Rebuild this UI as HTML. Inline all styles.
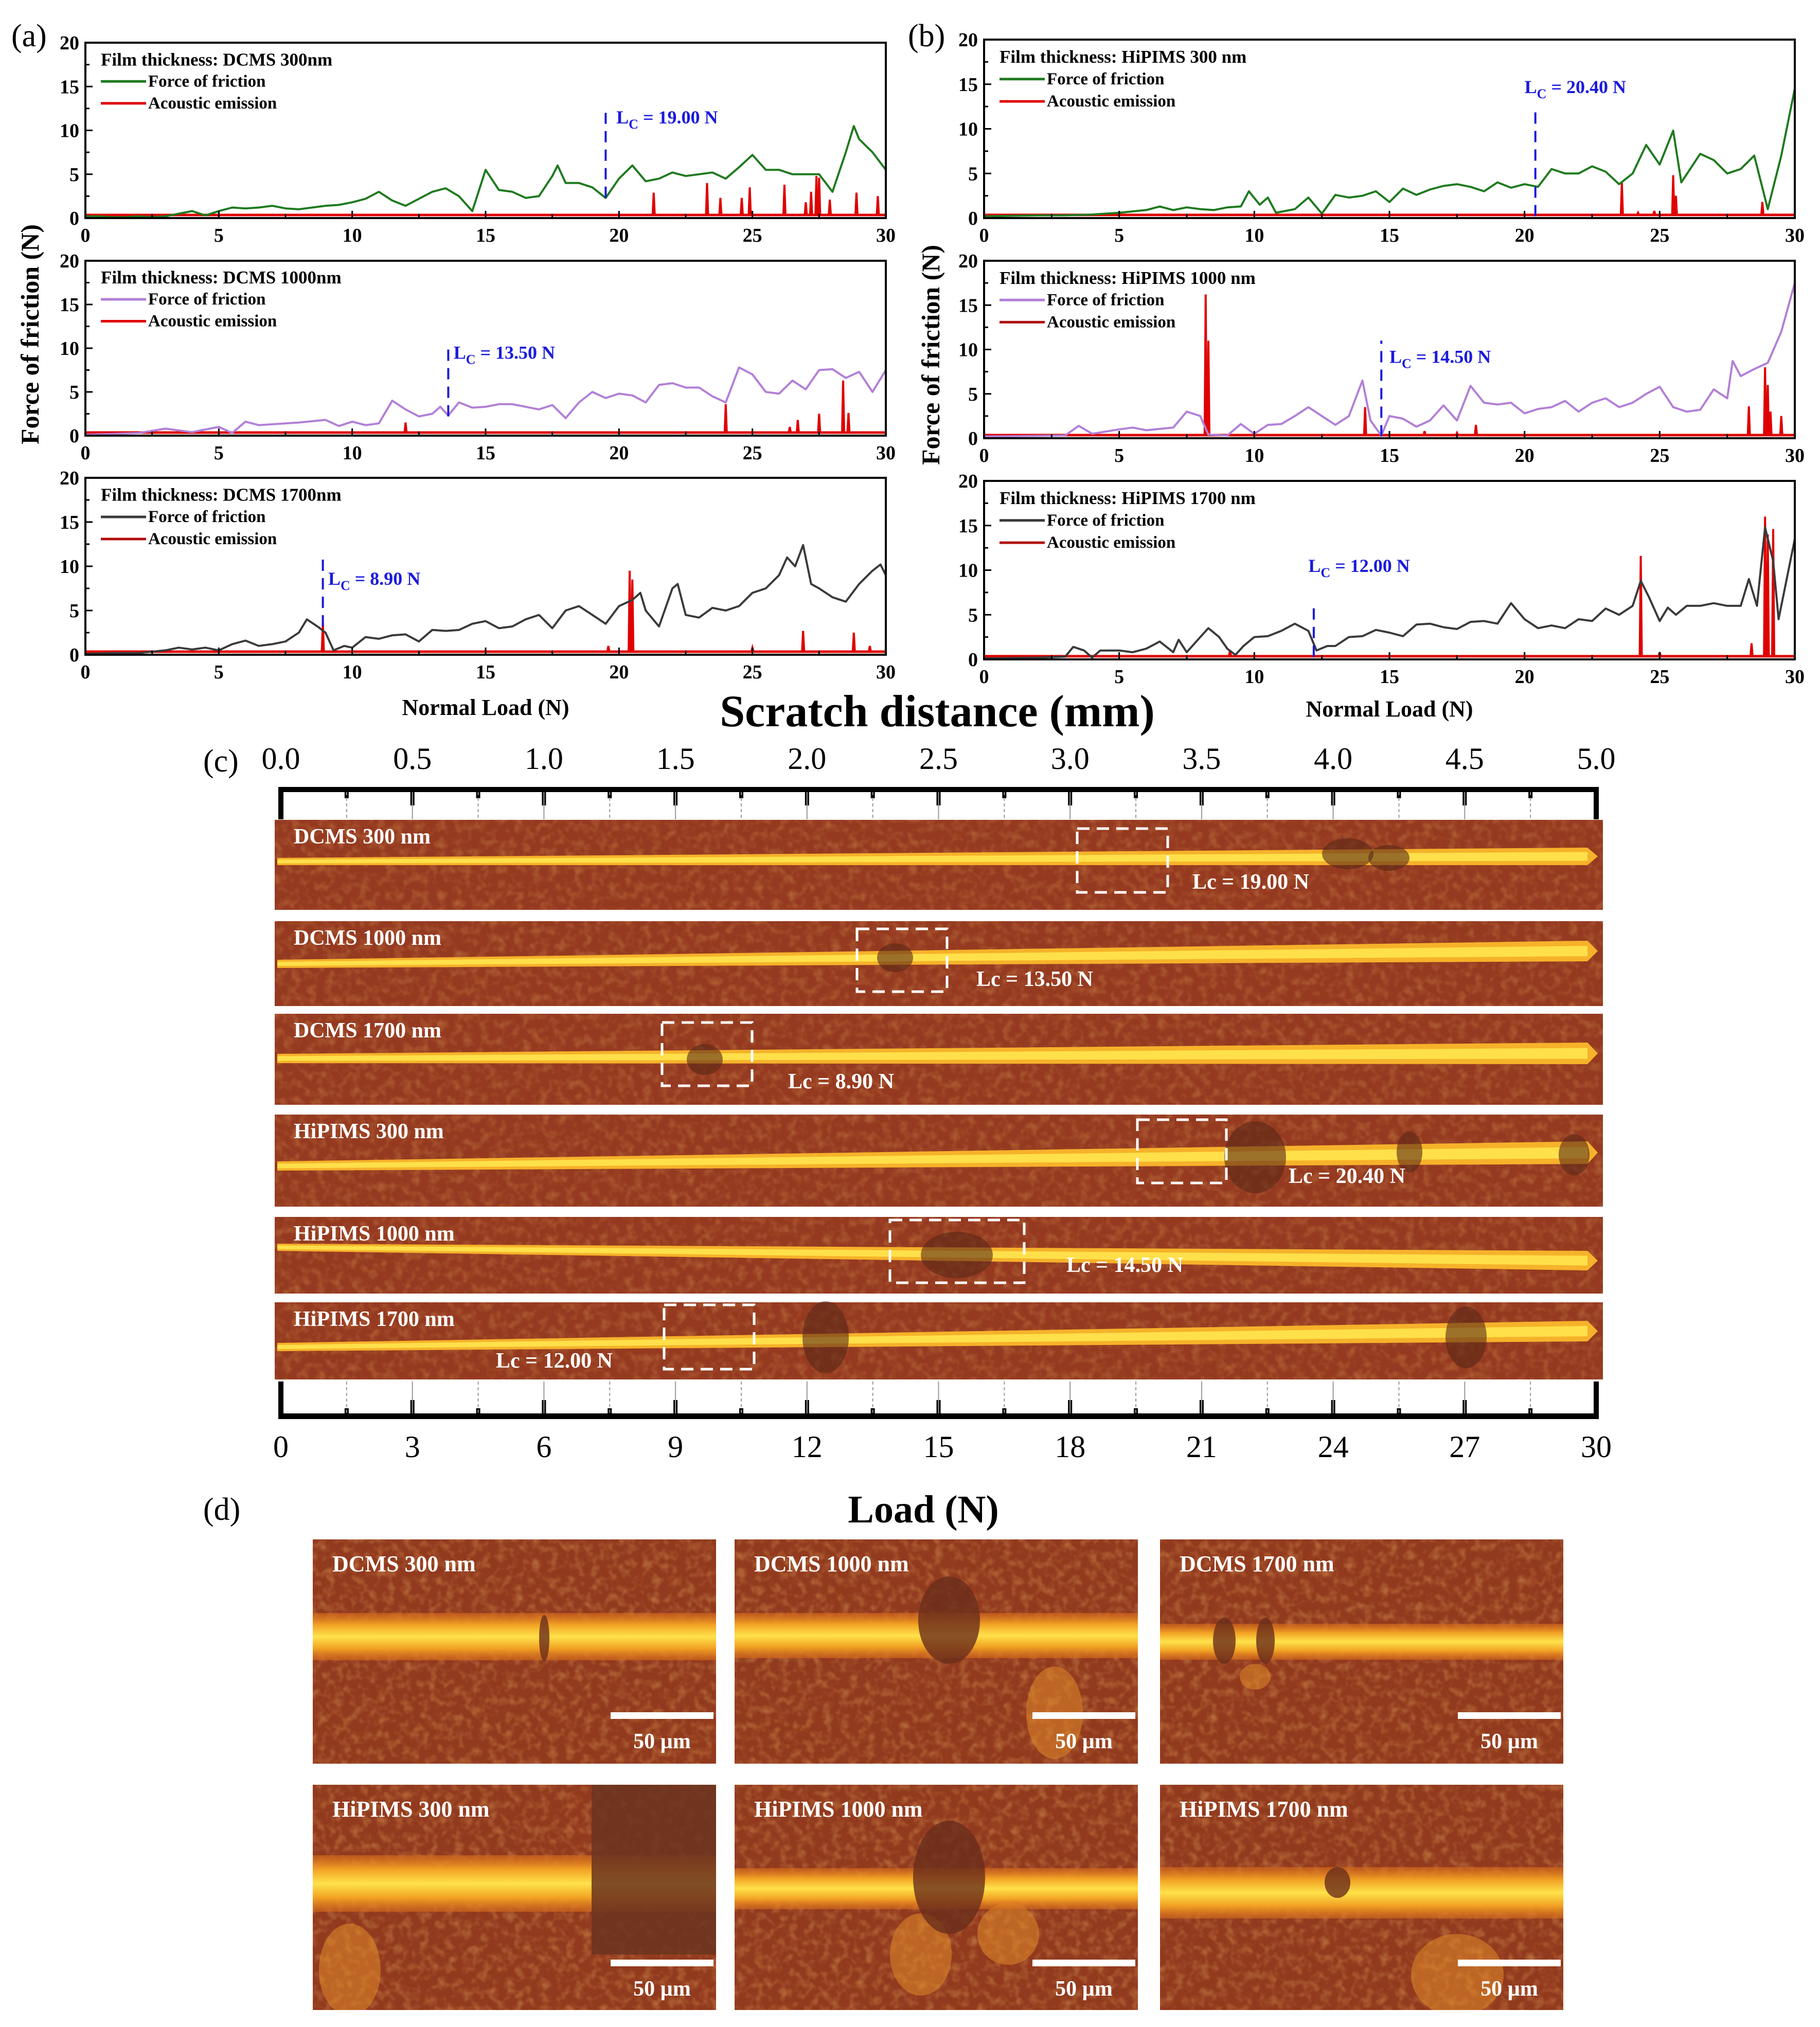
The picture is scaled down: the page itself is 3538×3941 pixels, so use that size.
<!DOCTYPE html>
<html><head><meta charset="utf-8"><style>
html,body{margin:0;padding:0;background:#fff}
svg{display:block}
text{font-family:"Liberation Serif",serif}
</style></head>
<body>
<svg id="fig" width="3538" height="3941" viewBox="0 0 3538 3941" xmlns="http://www.w3.org/2000/svg">
<defs>
<linearGradient id="bandG" x1="0" y1="0" x2="0" y2="1">
<stop offset="0" stop-color="#d86a1c" stop-opacity="0.6"/>
<stop offset="0.25" stop-color="#f2a224"/>
<stop offset="0.5" stop-color="#ffe24a"/>
<stop offset="0.75" stop-color="#f2a224"/>
<stop offset="1" stop-color="#d86a1c" stop-opacity="0.6"/>
</linearGradient>
<filter id="tex" x="0" y="0" width="1" height="1">
<feTurbulence type="fractalNoise" baseFrequency="0.06" numOctaves="2" seed="3"/>
<feColorMatrix values="0 0 0 0 0.95  0 0 0 0 0.55  0 0 0 0 0.15  0 0 0 -1.6 0.9"/>
<feComposite in2="SourceGraphic" operator="in"/>
</filter>
</defs>
<g id="charts"></g>
<g id="strips"></g>
<g id="micro"></g>
</svg>
<script>
// ---------- Panel (a)/(b) data: friction series ----------
const a1Load=[0,0.5,1,1.5,2,2.5,3,3.5,4,4.5,5,5.5,6,6.5,7,7.5,8,8.5,9,9.5,10,10.5,11,11.5,12,12.5,13,13.5,14,14.5,15,15.5,16,16.5,17,17.5,17.7,18,18.5,19,19.5,20,20.5,21,21.5,22,22.5,23,23.5,24,24.5,25,25.5,26,26.5,27,27.5,28,28.5,28.8,29,29.5,30];
const a1Friction=[0.2,0.2,0.1,0.1,0.2,0.1,0.2,0.5,0.8,0.3,0.8,1.2,1.1,1.2,1.4,1.1,1.0,1.2,1.4,1.5,1.8,2.2,3.0,2.0,1.4,2.2,3.0,3.4,2.5,0.8,5.5,3.2,3.0,2.3,2.5,4.8,6.0,4.0,4.0,3.5,2.3,4.5,6.0,4.2,4.5,5.2,4.8,5.0,5.2,4.5,5.8,7.2,5.5,5.5,5.0,5.0,5.0,3.0,7.5,10.5,9.0,7.5,5.5];
const a1AeLoad=[21.3,23.3,23.8,24.6,24.9,26.2,27.0,27.2,27.4,27.5,27.9,28.9,29.7];
const a1AeHeight=[2.9,4.0,2.3,2.3,3.5,3.8,1.8,3.0,4.8,4.6,2.1,2.9,2.5];

const a2Load=[0,1,2,3,4,5,5.5,6,6.5,7,8,9,9.5,10,10.5,11,11.5,12,12.5,13,13.3,13.6,14,14.5,15,15.5,16,16.5,17,17.5,18,18.5,19,19.5,20,20.5,21,21.5,22,22.5,23,23.5,24,24.5,25,25.5,26,26.5,27,27.5,28,28.5,29,29.5,30];
const a2Friction=[0.1,0.2,0.3,0.8,0.4,1.0,0.3,1.6,1.2,1.3,1.5,1.8,1.1,1.6,1.2,1.4,4.0,3.0,2.2,2.5,3.3,2.3,3.8,3.2,3.3,3.6,3.6,3.3,3.0,3.5,2.0,3.8,5.0,4.3,4.8,4.6,3.8,5.8,6.0,5.5,5.5,4.5,3.8,7.8,7.0,5.0,4.8,6.3,5.3,7.5,7.6,6.6,7.3,5.0,7.5];
const a2AeLoad=[12.0,24.0,26.4,26.7,27.5,28.4,28.6];
const a2AeHeight=[1.5,3.6,1.0,1.8,2.5,6.3,2.6];

const a3Load=[0,1,2,3,3.5,4,4.5,5,5.5,6,6.5,7,7.5,8,8.3,8.7,9,9.3,9.7,10,10.5,11,11.5,12,12.5,13,13.5,14,14.5,15,15.5,16,16.5,17,17.5,18,18.5,19,19.5,20,20.5,20.8,21,21.5,22,22.2,22.5,23,23.5,24,24.5,25,25.5,26,26.3,26.6,26.9,27.2,27.5,28,28.5,29,29.5,29.8,30];
const a3Friction=[0.1,0.2,0.2,0.5,0.8,0.6,0.8,0.5,1.2,1.6,1.0,1.2,1.5,2.5,4.0,3.2,2.5,0.5,1.0,0.8,2.0,1.8,2.2,2.3,1.5,2.8,2.7,2.8,3.5,3.8,3.0,3.2,4.0,4.5,3.0,5.0,5.5,4.5,3.5,5.5,6.2,7.0,5.0,3.2,7.5,8.0,4.5,4.2,5.3,5.0,5.5,7.0,7.5,9.0,11.0,10.0,12.4,8.0,7.5,6.5,6.0,8.0,9.5,10.2,9.0];
const a3AeLoad=[8.9,19.6,20.4,20.5,25.0,26.9,28.8,29.4];
const a3AeHeight=[3.6,1.0,9.5,8.5,0.8,2.7,2.5,1.0];

const b1Load=[0,2,3,4,5,6,6.5,7,7.5,8,8.5,9,9.5,9.8,10.2,10.5,10.8,11.5,12,12.5,13,13.5,14,14.5,15,15.5,16,16.5,17,17.5,18,18.5,19,19.5,20,20.5,21,21.5,22,22.5,23,23.5,24,24.5,25,25.5,25.8,26.5,27,27.5,28,28.5,29,29.5,30];
const b1Friction=[0.2,0.3,0.3,0.4,0.6,0.9,1.3,0.9,1.2,1.0,0.9,1.2,1.3,3.0,1.5,2.3,0.6,1.0,2.3,0.5,2.6,2.3,2.5,3.0,1.8,3.3,2.6,3.2,3.6,3.8,3.5,3.0,4.0,3.4,3.8,3.5,5.5,5.0,5.0,5.8,5.2,3.8,5.0,8.2,6.0,9.8,4.0,7.2,6.5,5.0,5.5,7.0,1.0,7.0,14.5];
const b1AeLoad=[23.6,24.2,24.8,25.5,25.6,28.8];
const b1AeHeight=[4.0,0.6,0.8,4.8,2.5,1.8];

const b2Load=[0,3,3.5,4,5,5.5,6,7,7.5,8,8.3,9,9.5,10,10.5,11,11.5,12,12.5,13,13.5,14,14.3,14.7,15,15.5,16,16.5,17,17.5,18,18.5,19,19.5,20,20.5,21,21.5,22,22.5,23,23.5,24,24.5,25,25.5,26,26.5,27,27.5,27.7,28,28.5,29,29.5,30];
const b2Friction=[0.2,0.3,1.4,0.5,1.0,1.2,0.9,1.2,3.0,2.5,0.4,0.3,1.6,0.5,1.5,1.6,2.5,3.5,2.5,1.5,2.5,6.5,2.0,0.3,2.5,2.2,1.3,2.0,3.7,2.0,5.9,4.0,3.8,4.0,2.8,3.3,3.5,4.2,3.0,4.0,4.5,3.5,4.0,5.0,5.8,3.5,3.0,3.2,5.5,4.5,8.7,7.0,7.8,8.5,12.0,17.5];
const b2AeLoad=[8.2,8.3,14.1,16.3,17.5,18.2,28.3,28.9,29.0,29.1,29.5];
const b2AeHeight=[16.2,11.0,3.5,0.8,0.6,1.5,3.6,8.0,6.0,3.0,2.5];

const b3Load=[0,2,3,3.3,3.7,4,4.3,5,5.5,6,6.5,7,7.2,7.5,8,8.3,8.7,9,9.3,9.6,10,10.5,11,11.5,12,12.3,12.7,13,13.5,14,14.5,15,15.5,16,16.5,17,17.5,18,18.5,19,19.5,20,20.5,21,21.5,22,22.5,23,23.5,24,24.3,24.6,25,25.3,25.6,26,26.5,27,27.5,28,28.3,28.6,28.9,29.2,29.4,30];
const b3Friction=[0.1,0.2,0.3,1.4,1.0,0.2,1.0,1.0,0.8,1.2,2.0,0.8,2.2,0.8,2.5,3.5,2.5,1.2,0.5,1.5,2.5,2.6,3.2,4.0,3.2,1.0,1.5,1.5,2.5,2.6,3.3,3.0,2.6,3.9,4.0,3.6,3.4,4.2,4.3,4.0,6.3,4.5,3.5,3.8,3.5,4.5,4.3,5.7,5.0,6.0,8.8,7.0,4.3,5.8,5.0,6.0,6.0,6.3,6.0,6.0,9.0,6.0,14.8,11.0,4.5,13.5];
const b3AeLoad=[9.1,24.3,25.0,28.4,28.9,29.0,29.2];
const b3AeHeight=[1.0,11.6,0.8,1.8,16.0,14.0,14.6];

// critical loads
const lcValues=[19.5,13.6,8.9,20.4,14.7,12.2];
const lcLabels=["19.00 N","13.50 N","8.90 N","20.40 N","14.50 N","12.00 N"];
const panelTitles=["Film thickness: DCMS 300nm","Film thickness: DCMS 1000nm","Film thickness: DCMS 1700nm","Film thickness: HiPIMS 300 nm","Film thickness: HiPIMS 1000 nm","Film thickness: HiPIMS 1700 nm"];
const xTicks=[0,5,10,15,20,25,30];
const yTicks=[0,5,10,15,20];
const aeBaseline=0.35;

// (c) strip axis ticks
const distTicks=["0.0","0.5","1.0","1.5","2.0","2.5","3.0","3.5","4.0","4.5","5.0"];
const loadTicks=["0","3","6","9","12","15","18","21","24","27","30"];

const NS="http://www.w3.org/2000/svg";
function mk(tag,attrs,parent,txt){const e=document.createElementNS(NS,tag);for(const k in attrs)e.setAttribute(k,attrs[k]);if(txt!==undefined)e.textContent=txt;parent.appendChild(e);return e;}

const charts=document.getElementById('charts');
const boxes=[
 {x0:166,x1:1722,y0:83,y1:424},{x0:166,x1:1722,y0:507,y1:847},{x0:166,x1:1722,y0:929,y1:1273},
 {x0:1913,x1:3489,y0:77,y1:424},{x0:1913,x1:3489,y0:507,y1:852},{x0:1913,x1:3489,y0:935,y1:1282}];
const series=[
 [a1Load,a1Friction,a1AeLoad,a1AeHeight,"#1f7a1f"],
 [a2Load,a2Friction,a2AeLoad,a2AeHeight,"#b27fd6"],
 [a3Load,a3Friction,a3AeLoad,a3AeHeight,"#3a3a3a"],
 [b1Load,b1Friction,b1AeLoad,b1AeHeight,"#1f7a1f"],
 [b2Load,b2Friction,b2AeLoad,b2AeHeight,"#b27fd6"],
 [b3Load,b3Friction,b3AeLoad,b3AeHeight,"#3a3a3a"]];
const lcSpan=[[2.3,12],[2.2,10],[3.2,11.5],[0.2,12],[0.2,11],[0.3,6]];
const lcText=[[19.9,10.8],[13.8,8.8],[9.1,7.9],[20.0,14.0],[15.0,8.5],[12.0,9.8]];

boxes.forEach((b,i)=>{
 const g=mk('g',{},charts);
 
 
 const sx=v=>b.x0+(v/30)*(b.x1-b.x0);
 const sy=v=>b.y1-(v/20)*(b.y1-b.y0);
 const [L,F,AL,AH,col]=series[i];
 let d='M'+sx(0)+','+sy(aeBaseline)+' L'+sx(30)+','+sy(aeBaseline);
 const ae=mk('path',{d:d,stroke:'#e00000','stroke-width':5,fill:'none'},g);
 
 
 AL.forEach((x,k)=>{
  const s=mk('path',{d:'M'+(sx(x)-2)+','+sy(aeBaseline)+' L'+sx(x)+','+sy(AH[k])+' L'+(sx(x)+2)+','+sy(aeBaseline),stroke:'#e00000','stroke-width':4,fill:'#e00000'},g);
  
  
 });
 const pts=L.map((x,k)=>sx(x).toFixed(1)+','+sy(F[k]).toFixed(1)).join(' ');
 const fl=mk('polyline',{points:pts,stroke:col,'stroke-width':4,fill:'none','stroke-linejoin':'round'},g);
 
 
 const lc=lcValues[i];
 const lcl=mk('line',{x1:sx(lc),x2:sx(lc),y1:sy(lcSpan[i][0]),y2:sy(lcSpan[i][1]),stroke:'#1a1adc','stroke-width':4,'stroke-dasharray':'22,14'},g);
 
 
 const lt=mk('text',{x:sx(lcText[i][0]),y:sy(lcText[i][1]),'font-size':36,'font-weight':'bold',fill:'#1a1adc'},g);
 
 
 lt.innerHTML='L<tspan font-size="26" dy="10">C</tspan><tspan dy="-10"> = '+lcLabels[i]+'</tspan>';
 const fr=mk('rect',{x:b.x0,y:b.y0,width:b.x1-b.x0,height:b.y1-b.y0,fill:'none',stroke:'#000','stroke-width':4},g);
 
 
 for(let v=0;v<=30;v+=2.5){const maj=v%5===0;mk('line',{x1:sx(v),x2:sx(v),y1:b.y1,y2:b.y1-(maj?14:8),stroke:'#000','stroke-width':3},g);}
 for(let v=0;v<=20;v+=2.5){const maj=v%5===0;mk('line',{x1:b.x0,x2:b.x0+(maj?14:8),y1:sy(v),y2:sy(v),stroke:'#000','stroke-width':3},g);}
 xTicks.forEach(v=>{const t=mk('text',{x:sx(v),y:b.y1+46,'font-size':38,'font-weight':'bold','text-anchor':'middle'},g,String(v));
  });
 yTicks.forEach(v=>{const t=mk('text',{x:b.x0-12,y:sy(v)+13,'font-size':38,'font-weight':'bold','text-anchor':'end'},g,String(v));
  });
 const lx=b.x0+30;
 const tt=mk('text',{x:lx,y:sy(17.4),'font-size':35,'font-weight':'bold'},g,panelTitles[i]);
 
 mk('line',{x1:lx,x2:lx+88,y1:sy(15)-10,y2:sy(15)-10,stroke:col,'stroke-width':5},g);
 const t1=mk('text',{x:lx+92,y:sy(15),'font-size':33,'font-weight':'bold'},g,'Force of friction');
 
 mk('line',{x1:lx,x2:lx+88,y1:sy(12.5)-10,y2:sy(12.5)-10,stroke:i%3===2||i===4?'#b01010':'#e00000','stroke-width':5},g);
 const t2=mk('text',{x:lx+92,y:sy(12.5),'font-size':33,'font-weight':'bold'},g,'Acoustic emission');
 
});
[[75,650],[1826,690]].forEach(p=>{
 const t=mk('text',{x:p[0],y:p[1],'font-size':50,'font-weight':'bold','text-anchor':'middle',transform:'rotate(-90 '+p[0]+' '+p[1]+')'},charts,'Force of friction (N)');
 
});
[[944,1390],[2701,1393]].forEach(p=>{
 const t=mk('text',{x:p[0],y:p[1],'font-size':44,'font-weight':'bold','text-anchor':'middle'},charts,'Normal Load (N)');
 
});
[['(a)',22,90],['(b)',1765,90],['(c)',395,1500],['(d)',395,2955]].forEach(p=>{
 const t=mk('text',{x:p[1],y:p[2],'font-size':62},charts,p[0]);
 
});
{const t=mk('text',{x:1822,y:1412,'font-size':88,'font-weight':'bold','text-anchor':'middle'},charts,'Scratch distance (mm)');
 }
{const t=mk('text',{x:1795,y:2960,'font-size':76,'font-weight':'bold','text-anchor':'middle'},charts,'Load (N)');
 }

// ---------- (c) rulers ----------
const RX0=546,RX1=3103;
const rx=i=>RX0+i*(RX1-RX0)/20;
distTicks.forEach((s,i)=>{const t=mk('text',{x:rx(i*2),y:1495,'font-size':60,'text-anchor':'middle'},charts,s);
 });
loadTicks.forEach((s,i)=>{const t=mk('text',{x:rx(i*2),y:2833,'font-size':60,'text-anchor':'middle'},charts,s);
 });
mk('rect',{x:RX0-5,y:1530,width:RX1-RX0+10,height:10,fill:'#000'},charts);
mk('rect',{x:RX0-5,y:1530,width:10,height:63,fill:'#000'},charts);
mk('rect',{x:RX1-5,y:1530,width:10,height:63,fill:'#000'},charts);
mk('rect',{x:RX0-5,y:2748,width:RX1-RX0+10,height:11,fill:'#000'},charts);
mk('rect',{x:RX0-5,y:2686,width:10,height:73,fill:'#000'},charts);
mk('rect',{x:RX1-5,y:2686,width:10,height:73,fill:'#000'},charts);
for(let i=1;i<20;i++){
 const maj=i%2===0;
 mk('rect',{x:rx(i)-4,y:1538,width:8,height:maj?28:14,fill:'#000'},charts);
 mk('line',{x1:rx(i),x2:rx(i),y1:1540,y2:1593,stroke:'#999','stroke-width':2,'stroke-dasharray':maj?'none':'6,5'},charts);
 mk('rect',{x:rx(i)-4,y:maj?2722:2738,width:8,height:maj?28:14,fill:'#000'},charts);
 mk('line',{x1:rx(i),x2:rx(i),y1:2686,y2:2748,stroke:'#999','stroke-width':2,'stroke-dasharray':maj?'none':'6,5'},charts);
}

// ---------- (c) strips ----------
const strips=document.getElementById('strips');
const stripDefs=[
 {y0:1594,y1:1769,name:'DCMS 300 nm',bl:1675,br:1665,tl:14,tr:34,box:[2094,1611,2270,1735],lc:'Lc = 19.00 N',lx:2318,ly:1728,dark:[[2620,1660,50,30],[2700,1668,40,25]]},
 {y0:1791,y1:1956,name:'DCMS 1000 nm',bl:1874,br:1849,tl:16,tr:40,box:[1666,1806,1841,1928],lc:'Lc = 13.50 N',lx:1898,ly:1917,dark:[[1740,1862,35,28]]},
 {y0:1971,y1:2148,name:'DCMS 1700 nm',bl:2058,br:2048,tl:18,tr:42,box:[1287,1988,1462,2111],lc:'Lc = 8.90 N',lx:1532,ly:2116,dark:[[1370,2060,35,30]]},
 {y0:2167,y1:2346,name:'HiPIMS 300 nm',bl:2267,br:2241,tl:18,tr:44,box:[2211,2177,2384,2300],lc:'Lc = 20.40 N',lx:2505,ly:2300,dark:[[2440,2250,60,70],[2740,2240,25,40],[3060,2245,30,40]]},
 {y0:2366,y1:2515,name:'HiPIMS 1000 nm',bl:2425,br:2451,tl:14,tr:38,box:[1730,2372,1991,2494],lc:'Lc = 14.50 N',lx:2073,ly:2473,dark:[[1860,2440,70,45]]},
 {y0:2532,y1:2682,name:'HiPIMS 1700 nm',bl:2619,br:2588,tl:16,tr:40,box:[1291,2537,1466,2662],lc:'Lc = 12.00 N',lx:964,ly:2659,dark:[[1605,2600,45,70],[2850,2600,40,60]]}];
stripDefs.forEach(s=>{
 const g=mk('g',{},strips);
 
 
 const X0=534,X1=3116;
 mk('rect',{x:X0,y:s.y0,width:X1-X0,height:s.y1-s.y0,fill:'#953a20'},g);
 mk('rect',{x:X0,y:s.y0,width:X1-X0,height:s.y1-s.y0,fill:'#000',filter:'url(#tex)',opacity:0.35},g);
 const pts=[[X0+5,s.bl-s.tl/2],[X1-30,s.br-s.tr/2],[X1-10,s.br],[X1-30,s.br+s.tr/2],[X0+5,s.bl+s.tl/2]];
 mk('polygon',{points:pts.map(p=>p.join(',')).join(' '),fill:'#f6b22a'},g);
 const pts2=[[X0+5,s.bl-s.tl/4],[X1-30,s.br-s.tr/4],[X1-30,s.br+s.tr/4],[X0+5,s.bl+s.tl/4]];
 mk('polygon',{points:pts2.map(p=>p.join(',')).join(' '),fill:'#ffe04a'},g);
 s.dark.forEach(d=>mk('ellipse',{cx:d[0],cy:d[1],rx:d[2],ry:d[3],fill:'#5a2818',opacity:0.6},g));
 const lab=mk('text',{x:571,y:s.y0+46,'font-size':42,'font-weight':'bold',fill:'#fff'},g,s.name);
 
 const bx=mk('rect',{x:s.box[0],y:s.box[1],width:s.box[2]-s.box[0],height:s.box[3]-s.box[1],fill:'none',stroke:'#fff','stroke-width':5,'stroke-dasharray':'24,14'},g);
 
 const lc=mk('text',{x:s.lx,y:s.ly,'font-size':42,'font-weight':'bold',fill:'#fff'},g,s.lc);
 
});

// ---------- (d) micrographs ----------
const micro=document.getElementById('micro');
const defs=document.querySelector('defs');
const cols=[608,1428,2255], colW=784;
const rows=[[2993,436],[3470,438]];
const microNames=[['DCMS 300 nm','DCMS 1000 nm','DCMS 1700 nm'],['HiPIMS 300 nm','HiPIMS 1000 nm','HiPIMS 1700 nm']];
const bandY=[[3182,3180,3192],[3662,3672,3680]];
const bandH=[[92,88,70],[110,80,100]];
const microDark=[
 [[[1058,3185,10,45]],[[1845,3150,60,85]],[[2380,3190,22,45],[2460,3190,18,45]]],
 [[],[[1845,3650,70,110]],[[2600,3660,25,30]]]];
const microBright=[
 [[],[[2050,3330,55,90]],[[2440,3260,30,25]]],
 [[[680,3830,60,90]],[[1790,3800,60,80],[1960,3760,60,60]],[[2833,3840,90,80]]]];
rows.forEach((r,ri)=>cols.forEach((cx,ci)=>{
 const cid='clip'+ri+ci;
 const cp=mk('clipPath',{id:cid},defs);
 mk('rect',{x:cx,y:r[0],width:colW,height:r[1]},cp);
 const g=mk('g',{'clip-path':'url(#'+cid+')'},micro);
 
 
 mk('rect',{x:cx,y:r[0],width:colW,height:r[1],fill:'#923a1e'},g);
 mk('rect',{x:cx,y:r[0],width:colW,height:r[1],fill:'#000',filter:'url(#tex)',opacity:0.45},g);
 microBright[ri][ci].forEach(d=>mk('ellipse',{cx:d[0],cy:d[1],rx:d[2],ry:d[3],fill:'#e8902a',opacity:0.5},g));
 const by=bandY[ri][ci],bh=bandH[ri][ci];
 mk('rect',{x:cx,y:by-bh/2,width:colW,height:bh,fill:'url(#bandG)'},g);
 if(ri===1&&ci===0){mk('rect',{x:1150,y:3470,width:242,height:330,fill:'#6a3420',opacity:0.85},g);}
 microDark[ri][ci].forEach(d=>mk('ellipse',{cx:d[0],cy:d[1],rx:d[2],ry:d[3],fill:'#6a2e1c',opacity:0.8},g));
 const t=mk('text',{x:cx+38,y:r[0]+62,'font-size':44,'font-weight':'bold',fill:'#fff'},g,microNames[ri][ci]);
 
 const barY=ri===0?r[0]+336:r[0]+340;
 const bar=mk('rect',{x:cx+colW-205,y:barY,width:200,height:13,fill:'#fff'},g);
 
 const st=mk('text',{x:cx+colW-105,y:barY+70,'font-size':42,'font-weight':'bold',fill:'#fff','text-anchor':'middle'},g,'50 µm');
 
}));
</script>
</body></html>
